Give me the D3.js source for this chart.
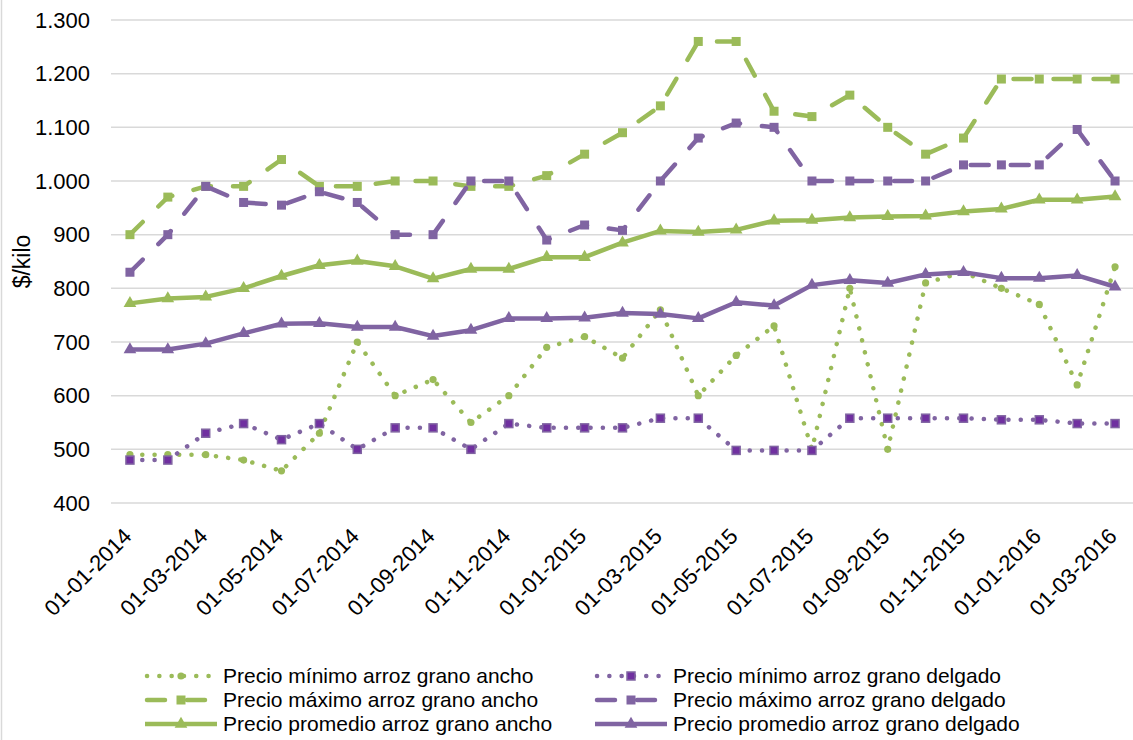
<!DOCTYPE html>
<html>
<head>
<meta charset="utf-8">
<script src="https://cdn.jsdelivr.net/npm/d3@7"></script>
<style>
  body { margin: 0; background: #fff; }
  svg { display: block; font-family: "Liberation Sans", Arial, sans-serif; }
</style>
</head>
<body>
<svg id="chart" width="1133" height="740"></svg>
<script>
// months (first day of each month)
var months = ["01-01-2014","01-02-2014","01-03-2014","01-04-2014","01-05-2014","01-06-2014",
    "01-07-2014","01-08-2014","01-09-2014","01-10-2014","01-11-2014","01-12-2014",
    "01-01-2015","01-02-2015","01-03-2015","01-04-2015","01-05-2015","01-06-2015",
    "01-07-2015","01-08-2015","01-09-2015","01-10-2015","01-11-2015","01-12-2015",
    "01-01-2016","01-02-2016","01-03-2016"];

var minAncho   = [490,490,490,480,460,530,700,600,630,550,600,690,710,670,760,600,675,730,500,800,500,810,830,800,770,620,840];
var minDelgado = [480,480,530,548,518,548,500,540,540,500,548,540,540,540,558,558,498,498,498,558,558,558,558,555,555,548,548];
var maxAncho   = [900,970,990,990,1040,990,990,1000,1000,990,990,1010,1050,1090,1140,1260,1260,1130,1120,1160,1100,1050,1080,1190,1190,1190,1190];
var maxDelgado = [830,900,990,960,955,980,960,900,900,1000,1000,890,918,908,1000,1080,1108,1100,1000,1000,1000,1000,1030,1030,1030,1096,1000];
var avgAncho   = [772,781,784,800,823,843,851,841,818,836,836,858,858,885,907,905,909,926,927,932,934,935,943,948,965,965,971];
var avgDelgado = [686,686,697,716,734,735,728,728,711,722,744,744,745,754,752,744,774,768,806,815,810,826,830,819,819,824,803];

var yTicks = [400,500,600,700,800,900,1000,1100,1200,1300];

var green = "#9BBB59", purple = "#8064A2";

var series = [
    {name: "Precio mínimo arroz grano ancho", values: minAncho, color: green, style: "dot", marker: "circle"},
    {name: "Precio mínimo arroz grano delgado", values: minDelgado, color: purple, style: "dot", marker: "smallsquare"},
    {name: "Precio máximo arroz grano ancho", values: maxAncho, color: green, style: "dash", marker: "square"},
    {name: "Precio máximo arroz grano delgado", values: maxDelgado, color: purple, style: "dash", marker: "square"},
    {name: "Precio promedio arroz grano ancho", values: avgAncho, color: green, style: "solid", marker: "triangle"},
    {name: "Precio promedio arroz grano delgado", values: avgDelgado, color: purple, style: "solid", marker: "triangle"}
];

var dashes = {dot: "0.1 12.2", dash: "18 22", solid: null};

var margin = {left: 111, right: 0, top: 20, bottom: 237};
var width = 1134 - margin.left;
var height = 503 - margin.top;

var svg = d3.select("#chart");

// frame edge on the left
svg.append("line")
    .attr("x1", 1.5).attr("x2", 1.5).attr("y1", 0).attr("y2", 740)
    .attr("stroke", "#D9D9D9").attr("stroke-width", 1.5);

var g = svg.append("g").attr("transform", "translate(" + margin.left + "," + margin.top + ")");

var x = d3.scalePoint().domain(months).range([0, width]).padding(0.5);
var y = d3.scaleLinear().domain([400, 1300]).range([height, 0]);

// gridlines
g.selectAll(".grid")
    .data(yTicks)
    .enter()
    .append("line")
    .attr("class", "grid")
    .attr("x1", 0).attr("x2", width)
    .attr("y1", function(d) { return y(d); })
    .attr("y2", function(d) { return y(d); })
    .attr("stroke", "#D9D9D9").attr("stroke-width", 1.5);

// y axis
var yAxis = g.append("g")
    .call(d3.axisLeft(y).tickValues(yTicks).tickSize(0).tickPadding(21)
        .tickFormat(function(d) { return d3.format(",")(d).replace(",", "."); }));
yAxis.select(".domain").remove();
yAxis.selectAll("text").attr("font-size", 22).attr("fill", "#000")
    .attr("font-family", "Liberation Sans, Arial, sans-serif");

g.append("text")
    .attr("transform", "translate(" + (22 - margin.left) + "," + (height / 2) + ") rotate(-90)")
    .attr("text-anchor", "middle")
    .attr("dy", "0.35em")
    .attr("font-size", 23)
    .text("$/kilo");

// x axis
var xAxis = g.append("g")
    .attr("transform", "translate(0," + height + ")")
    .call(d3.axisBottom(x).tickValues(months.filter(function(d, i) { return i % 2 === 0; })).tickSize(0));
xAxis.select(".domain").remove();
xAxis.selectAll("text")
    .attr("font-size", 22).attr("fill", "#000")
    .attr("font-family", "Liberation Sans, Arial, sans-serif")
    .attr("text-anchor", "end")
    .attr("dy", "0.35em")
    .attr("transform", "translate(-5,27) rotate(-45)");

function drawMarker(sel, type, color) {
    if (type === "circle") {
        sel.append("circle").attr("r", 3.6).attr("fill", color);
    } else if (type === "smallsquare") {
        sel.append("rect").attr("x", -4).attr("y", -4).attr("width", 8).attr("height", 8)
            .attr("fill", "#7030A0").attr("stroke", color).attr("stroke-width", 1.5);
    } else if (type === "square") {
        sel.append("rect").attr("x", -4.5).attr("y", -4.5).attr("width", 9).attr("height", 9)
            .attr("fill", color);
    } else if (type === "triangle") {
        sel.append("path").attr("d", d3.symbol().type(d3.symbolTriangle).size(70)).attr("fill", color);
    }
}

var line = d3.line()
    .x(function(d, i) { return x(months[i]); })
    .y(function(d) { return y(d); });

series.forEach(function(s) {
    g.append("path")
        .datum(s.values)
        .attr("d", line)
        .attr("fill", "none")
        .attr("stroke", s.color)
        .attr("stroke-width", 4.5)
        .attr("stroke-linecap", s.style === "solid" ? "butt" : "round")
        .attr("stroke-linejoin", "round")
        .attr("stroke-dasharray", dashes[s.style]);

    g.selectAll(null)
        .data(s.values)
        .enter()
        .append("g")
        .attr("transform", function(d, i) { return "translate(" + x(months[i]) + "," + y(d) + ")"; })
        .each(function() { drawMarker(d3.select(this), s.marker, s.color); });
});

// legend: two columns, three rows
var legendCols = [145, 595];
var legendRows = [676, 700, 724];
var legendOrder = [0, 1, 2, 3, 4, 5];

var legend = svg.selectAll(".legend")
    .data(legendOrder)
    .enter()
    .append("g")
    .attr("class", "legend")
    .attr("transform", function(d) {
        return "translate(" + legendCols[d % 2] + "," + legendRows[Math.floor(d / 2)] + ")";
    });

legend.each(function(d) {
    var s = series[d];
    var el = d3.select(this);
    el.append("line")
        .attr("x1", s.style === "solid" ? 0 : 2).attr("x2", s.style === "solid" ? 72 : 70)
        .attr("y1", 0).attr("y2", 0)
        .attr("stroke", s.color).attr("stroke-width", 4.5)
        .attr("stroke-linecap", s.style === "solid" ? "butt" : "round")
        .attr("stroke-dasharray", dashes[s.style]);
    var m = el.append("g").attr("transform", "translate(36,0)");
    drawMarker(m, s.marker, s.color);
    el.append("text")
        .attr("x", 78).attr("y", 0).attr("dy", "0.35em")
        .attr("font-size", 21)
        .text(s.name);
});
</script>
</body>
</html>
